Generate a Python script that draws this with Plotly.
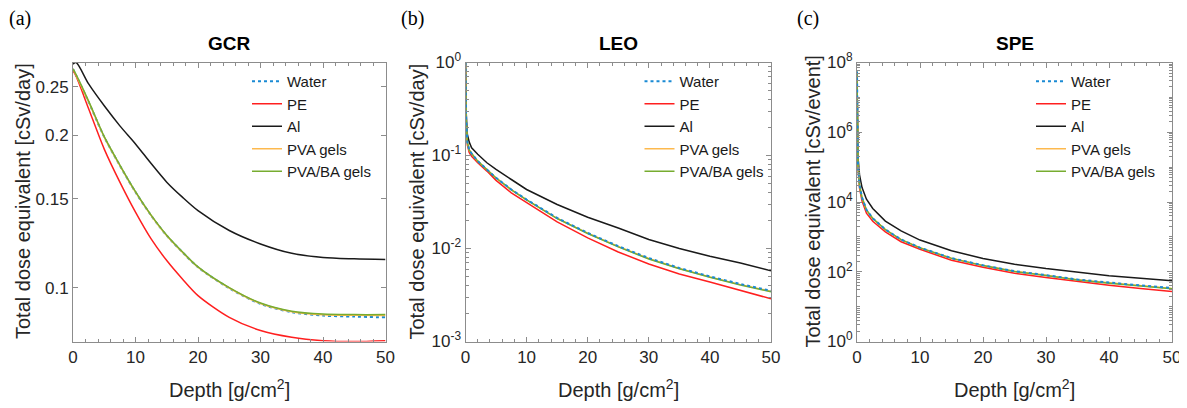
import plotly.graph_objects as go

# ---------------- data ----------------
series_names = ["Water", "PE", "Al", "PVA gels", "PVA/BA gels"]

# (a) GCR  [cSv/day]
depth_gcr = [0, 0.5, 2.5, 5, 7.5, 10, 12.5, 15, 17.5, 20, 25, 30, 35, 40, 45, 50]
water_gcr = [0.271, 0.263, 0.233, 0.1986, 0.1744, 0.1545, 0.1389, 0.1267, 0.1175, 0.1097, 0.0997, 0.0928, 0.0894, 0.0880, 0.0876, 0.0873]
pe_gcr = [0.269, 0.262, 0.226, 0.188, 0.1617, 0.141, 0.1248, 0.1131, 0.104, 0.0964, 0.0873, 0.0822, 0.0797, 0.0785, 0.0782, 0.0785]
al_gcr = [0.277, 0.279, 0.253, 0.229, 0.209, 0.1925, 0.176, 0.1617, 0.151, 0.142, 0.1297, 0.122, 0.1169, 0.1147, 0.114, 0.1136]
pva_gcr = [0.271, 0.263, 0.233, 0.1986, 0.1744, 0.1545, 0.1389, 0.1267, 0.1175, 0.1097, 0.0998, 0.0930, 0.0896, 0.0883, 0.0881, 0.0880]
pvaba_gcr = [0.271, 0.264, 0.234, 0.1990, 0.1748, 0.1548, 0.1391, 0.1269, 0.1177, 0.1099, 0.1000, 0.0932, 0.0898, 0.0886, 0.0884, 0.0884]

# (b) LEO  [cSv/day]
depth_leo = [0, 0.1, 0.3, 0.6, 1, 2, 3.5, 5, 7.5, 10, 15, 20, 25, 30, 35, 40, 45, 50]
water_leo = [1.0, 0.25, 0.14, 0.115, 0.105, 0.087, 0.0708, 0.0576, 0.0431, 0.0336, 0.0213, 0.0147, 0.0106, 0.0079, 0.00617, 0.00501, 0.00415, 0.00351]
pe_leo = [1.0, 0.24, 0.13, 0.108, 0.098, 0.0836, 0.068, 0.054, 0.0397, 0.031, 0.0193, 0.0130, 0.00918, 0.00681, 0.00531, 0.00436, 0.00355, 0.00288]
al_leo = [1.0, 0.30, 0.17, 0.14, 0.121, 0.103, 0.0836, 0.0708, 0.0552, 0.0431, 0.0297, 0.0217, 0.0166, 0.0125, 0.0100, 0.00824, 0.00699, 0.00577]
pva_leo = [1.0, 0.25, 0.14, 0.115, 0.105, 0.087, 0.0706, 0.0574, 0.0429, 0.0334, 0.0211, 0.0146, 0.0105, 0.0078, 0.00610, 0.00494, 0.00409, 0.00346]
pvaba_leo = [1.0, 0.25, 0.14, 0.115, 0.105, 0.087, 0.0705, 0.0573, 0.0428, 0.0333, 0.0210, 0.0145, 0.0104, 0.0077, 0.00605, 0.00490, 0.00405, 0.00342]

# (c) SPE  [cSv/event]
depth_spe = [0, 0.05, 0.15, 0.4, 0.8, 1.5, 2.5, 4.5, 7, 10, 15, 20, 25, 30, 35, 40, 45, 50]
water_spe = [5.5e7, 8e5, 1.2e5, 3e4, 1.34e4, 6e3, 3.4e3, 1630, 840, 490, 246, 153, 104, 80, 60, 49, 41, 34]
pe_spe = [5e7, 7e5, 1e5, 2.5e4, 1.07e4, 4.8e3, 2.8e3, 1390, 725, 440, 213, 134, 91, 68, 52, 41, 33, 27]
al_spe = [5e7, 1e6, 2e5, 6e4, 2.6e4, 1.2e4, 6.5e3, 2840, 1480, 810, 400, 240, 163, 123, 96, 77, 65, 55]
pva_spe = [5.5e7, 8e5, 1.2e5, 3e4, 1.33e4, 5.95e3, 3.38e3, 1620, 835, 487, 244, 151, 103, 79, 59, 48, 40, 33]
pvaba_spe = [5.5e7, 8e5, 1.2e5, 3e4, 1.32e4, 5.9e3, 3.36e3, 1610, 830, 484, 242, 150, 102, 78, 58, 47, 39, 32.5]

panel_titles = ["GCR", "LEO", "SPE"]
panel_letters = ["(a)", "(b)", "(c)"]
y_titles = ["Total dose equivalent [cSv/day]", "Total dose equivalent [cSv/day]", "Total dose equivalent [cSv/event]"]
x_title = "Depth [g/cm<sup>2</sup>]"
x_ticks = [0, 10, 20, 30, 40, 50]
gcr_ticks = [0.1, 0.15, 0.2, 0.25]
gcr_ticktext = ["0.1", "0.15", "0.2", "0.25"]
leo_ticks = [1e-3, 1e-2, 1e-1, 1]
leo_ticktext = ["10<sup>-3</sup>", "10<sup>-2</sup>", "10<sup>-1</sup>", "10<sup>0</sup>"]
spe_ticks = [1, 1e2, 1e4, 1e6, 1e8]
spe_ticktext = ["10<sup>0</sup>", "10<sup>2</sup>", "10<sup>4</sup>", "10<sup>6</sup>", "10<sup>8</sup>"]

# ---------------- style ----------------
OFF = 8                      # page body margin of the html
W, H = 1187 - OFF, 408 - OFF


def fx(px):
    return (px - OFF) / W


def fy(py):
    return 1 - (py - OFF) / H


FONT = "Liberation Sans, Arial, sans-serif"
colors = {"Water": "#1a8ad4", "PE": "#ff1f1f", "Al": "#1a1a1a",
          "PVA gels": "#fdb94e", "PVA/BA gels": "#77ac30"}
dashes = {"Water": "dot", "PE": "solid", "Al": "solid", "PVA gels": "solid", "PVA/BA gels": "solid"}

panels = [
    (depth_gcr, [water_gcr, pe_gcr, al_gcr, pva_gcr, pvaba_gcr], "spline"),
    (depth_leo, [water_leo, pe_leo, al_leo, pva_leo, pvaba_leo], "linear"),
    (depth_spe, [water_spe, pe_spe, al_spe, pva_spe, pvaba_spe], "linear"),
]

x_dom = [(73, 385.5), (465.5, 771), (857, 1172)]
y_top, y_bot = 62.5, 341.5

fig = go.Figure()
for p, (depth, ys, shape) in enumerate(panels):
    sfx = "" if p == 0 else str(p + 1)
    order = [0, 1, 2, 3, 4] if p == 0 else [1, 2, 3, 4, 0]
    for i in order:
        name = series_names[i]
        fig.add_trace(go.Scatter(
            x=depth, y=ys[i], name=name, mode="lines",
            line=dict(color=colors[name], width=2 if name == "Water" else 1.5,
                      dash=dashes[name], shape=shape,
                      smoothing=0.8 if shape == "spline" else None),
            xaxis="x" + sfx, yaxis="y" + sfx,
            legend="legend" + sfx, legendrank=i + 1,
        ))

axis_common = dict(showline=True, linecolor="#8c8c8c", linewidth=1, mirror="ticks",
                   ticks="inside", ticklen=5, tickcolor="#8c8c8c", tickwidth=1,
                   showgrid=False, zeroline=False, automargin=False,
                   tickfont=dict(family=FONT, size=17, color="#262626"))

layout = dict(width=W, height=H, margin=dict(l=0, r=0, t=0, b=0, pad=0, autoexpand=False),
              paper_bgcolor="white", plot_bgcolor="white", showlegend=True,
              font=dict(family=FONT, color="#000"))

y_ranges = [[-1.1068, -0.5544], [-3, 0], [0, 8]]
y_tickvals = [gcr_ticks, leo_ticks, spe_ticks]
y_ticktexts = [gcr_ticktext, leo_ticktext, spe_ticktext]

annotations = []
for p in range(3):
    sfx = "" if p == 0 else str(p + 1)
    x0, x1 = x_dom[p]
    layout["xaxis" + sfx] = dict(axis_common, domain=[fx(x0), fx(x1)], range=[0, 50],
                                 tickvals=x_ticks, anchor="y" + sfx,
                                 minor=dict(ticks="inside", ticklen=3, dtick=2, tickcolor="#8c8c8c"))
    ydict = dict(axis_common, domain=[fy(y_bot), fy(y_top)], type="log",
                 range=y_ranges[p], tickvals=y_tickvals[p], ticktext=y_ticktexts[p],
                 anchor="x" + sfx)
    if p > 0:
        ydict["minor"] = dict(ticks="inside", ticklen=3, tickcolor="#8c8c8c", dtick="D1")
    layout["yaxis" + sfx] = ydict
    # legend
    layout["legend" + sfx] = dict(x=fx(x0 + 174), y=fy(65), xanchor="left", yanchor="top",
                                  bgcolor="rgba(0,0,0,0)", borderwidth=0,
                                  font=dict(family=FONT, size=15, color="#1a1a1a"),
                                  itemwidth=30, tracegroupgap=0)
    cx = (x0 + x1) / 2
    annotations.append(dict(text="<b>%s</b>" % panel_titles[p], x=fx(cx), y=fy(43.5),
                            xref="paper", yref="paper", showarrow=False,
                            font=dict(family=FONT, size=19, color="#000"),
                            xanchor="center", yanchor="middle"))
    annotations.append(dict(text=x_title, x=fx(cx), y=fy(388), xref="paper", yref="paper",
                            showarrow=False, font=dict(family=FONT, size=20, color="#262626"),
                            xanchor="center", yanchor="middle"))
    annotations.append(dict(text=y_titles[p], x=fx([22.5, 416, 812][p]), y=fy(201.5),
                            xref="paper", yref="paper", showarrow=False, textangle=-90,
                            font=dict(family=FONT, size=20, color="#262626"),
                            xanchor="center", yanchor="middle"))
    annotations.append(dict(text=panel_letters[p], x=fx([20, 412, 808][p]), y=fy(19),
                            xref="paper", yref="paper", showarrow=False,
                            font=dict(family="Liberation Serif, Times New Roman, serif", size=20, color="#000"),
                            xanchor="center", yanchor="middle"))

layout["annotations"] = annotations
fig.update_layout(**layout)
fig.write_html("out.html")
